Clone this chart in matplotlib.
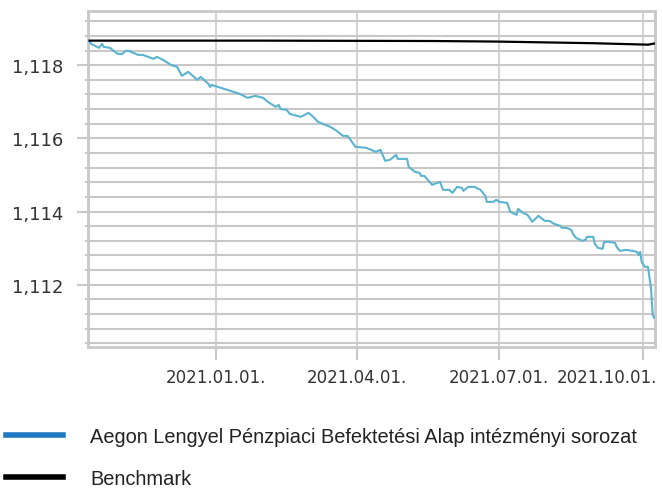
import matplotlib
matplotlib.use("Agg")
import matplotlib.pyplot as plt
import matplotlib.transforms as mtransforms
from matplotlib.lines import Line2D
from matplotlib.ticker import MultipleLocator, FuncFormatter
import pandas as pd

fund_dates = [
    "2020-10-12", "2020-10-13", "2020-10-18", "2020-10-20", "2020-10-21", "2020-10-25",
    "2020-10-30", "2020-11-02", "2020-11-04", "2020-11-06", "2020-11-12", "2020-11-15",
    "2020-11-22", "2020-11-24", "2020-11-28", "2020-12-03", "2020-12-07", "2020-12-10",
    "2020-12-14", "2020-12-20", "2020-12-22", "2020-12-27", "2020-12-28", "2020-12-29",
    "2021-01-04", "2021-01-12", "2021-01-16", "2021-01-21", "2021-01-26", "2021-01-31",
    "2021-02-03", "2021-02-08", "2021-02-10", "2021-02-11", "2021-02-15", "2021-02-17",
    "2021-02-24", "2021-03-01", "2021-03-04", "2021-03-07", "2021-03-15", "2021-03-19",
    "2021-03-23", "2021-03-26", "2021-03-31", "2021-04-07", "2021-04-13", "2021-04-16",
    "2021-04-19", "2021-04-22", "2021-04-26", "2021-04-27", "2021-05-03", "2021-05-04",
    "2021-05-08", "2021-05-11", "2021-05-12", "2021-05-14", "2021-05-19", "2021-05-24",
    "2021-05-26", "2021-05-30", "2021-06-01", "2021-06-04", "2021-06-07", "2021-06-08",
    "2021-06-11", "2021-06-15", "2021-06-19", "2021-06-22", "2021-06-23", "2021-06-27",
    "2021-06-29", "2021-07-01", "2021-07-06", "2021-07-08", "2021-07-12", "2021-07-13",
    "2021-07-16", "2021-07-19", "2021-07-22", "2021-07-26", "2021-07-30", "2021-08-02",
    "2021-08-05", "2021-08-09", "2021-08-10", "2021-08-13", "2021-08-16", "2021-08-17",
    "2021-08-19", "2021-08-23", "2021-08-25", "2021-08-26", "2021-08-30", "2021-08-31",
    "2021-09-02", "2021-09-05", "2021-09-06", "2021-09-09", "2021-09-13", "2021-09-14",
    "2021-09-16", "2021-09-20", "2021-09-24", "2021-09-27", "2021-09-28", "2021-09-29",
    "2021-09-30", "2021-10-02", "2021-10-04", "2021-10-06", "2021-10-07", "2021-10-08",
]
fund_values = [
    1.118645, 1.118582, 1.118473, 1.118582, 1.118500, 1.118473,
    1.118309, 1.118309, 1.118391, 1.118391, 1.118281, 1.118281,
    1.118172, 1.118227, 1.118145, 1.118008, 1.117954, 1.117708,
    1.117817, 1.117598, 1.117680, 1.117489, 1.117407, 1.117462,
    1.117380, 1.117271, 1.117216, 1.117107, 1.117161, 1.117107,
    1.116997, 1.116861, 1.116915, 1.116806, 1.116779, 1.116670,
    1.116588, 1.116697, 1.116588, 1.116451, 1.116314, 1.116205,
    1.116068, 1.116068, 1.115768, 1.115741, 1.115631, 1.115686,
    1.115386, 1.115413, 1.115549, 1.115440, 1.115440, 1.115222,
    1.115085, 1.115058, 1.114976, 1.114976, 1.114730, 1.114812,
    1.114593, 1.114593, 1.114511, 1.114675, 1.114648, 1.114566,
    1.114675, 1.114675, 1.114593, 1.114429, 1.114265, 1.114265,
    1.114320, 1.114265, 1.114238, 1.113992, 1.113910, 1.114074,
    1.113965, 1.113910, 1.113719, 1.113883, 1.113746, 1.113746,
    1.113664, 1.113610, 1.113555, 1.113555, 1.113500, 1.113391,
    1.113282, 1.113200, 1.113227, 1.113309, 1.113309, 1.113118,
    1.113009, 1.112981, 1.113173, 1.113173, 1.113145, 1.113036,
    1.112927, 1.112954, 1.112927, 1.112899, 1.112817, 1.112899,
    1.112626, 1.112490, 1.112490, 1.111889, 1.111178, 1.111096,
]

bench_dates = ["2020-10-12", "2021-02-01", "2021-05-20", "2021-06-29",
               "2021-08-30", "2021-10-04", "2021-10-08"]
bench_values = [1.118670, 1.118670, 1.118660, 1.118645, 1.118600, 1.118560, 1.118590]

tick_dates = ["2021-01-01", "2021-04-01", "2021-07-01", "2021-10-01"]
tick_labels = ["2021.01.01.", "2021.04.01.", "2021.07.01.", "2021.10.01."]

series_names = ["Aegon Lengyel Pénzpiaci Befektetési Alap intézményi sorozat", "Benchmark"]

grid_c = "#c8c8c8"

fig = plt.figure(figsize=(6.62, 4.89), dpi=100)
ax = fig.add_axes([88 / 662, 1 - 348 / 489, (655 - 88) / 662, (348 - 12) / 489])

ax.plot(pd.to_datetime(fund_dates), fund_values, color="#5ab4cf", lw=1.5, zorder=3)
ax.plot(pd.to_datetime(bench_dates), bench_values, color="#000000", lw=1.6, zorder=4)

ax.set_xlim(pd.Timestamp("2020-10-11"), pd.Timestamp("2021-10-08 12:00"))
ax.set_ylim(1.1103, 1.11948)

ax.yaxis.set_major_locator(MultipleLocator(0.002))
ax.yaxis.set_minor_locator(MultipleLocator(0.0004))
ax.yaxis.set_major_formatter(FuncFormatter(lambda v, p: f"{v:.3f}".replace(".", ",")))
ax.set_xticks(pd.to_datetime(tick_dates), tick_labels)

ax.grid(True, which="both", axis="y", color=grid_c, lw=1.5)
ax.grid(True, which="major", axis="x", color="#d4d4d4", lw=1.5)
ax.set_axisbelow(True)
for sp in ax.spines.values():
    sp.set_color(grid_c)
    sp.set_linewidth(2)

ax.tick_params(axis="y", which="major", length=8, width=1.5, color=grid_c, pad=10,
               labelsize=13, labelcolor="#333333")
ax.tick_params(axis="y", which="minor", length=2, width=1.5, color=grid_c)
ax.tick_params(axis="x", which="major", length=9, width=1.5, color=grid_c, pad=6,
               labelsize=12, labelcolor="#333333")

# last date label is pushed left so it stays inside the picture
last = ax.get_xticklabels()[-1]
last.set_horizontalalignment("right")
last.set_transform(last.get_transform() + mtransforms.ScaledTranslation(0.14, 0, fig.dpi_scale_trans))

handles = [Line2D([], [], color="#1f78c1", lw=4),
           Line2D([], [], color="#000000", lw=4)]
fig.legend(handles, series_names, loc="upper left", bbox_to_anchor=(6 / 662, 1 - 428 / 489),
           frameon=False, borderpad=0, borderaxespad=0, handlelength=2.85, handletextpad=1.35,
           labelspacing=1.15, prop={"family": ["Liberation Sans", "DejaVu Sans"], "size": 14.4},
           labelcolor="#222222")

fig.savefig("out.png", dpi=100)
